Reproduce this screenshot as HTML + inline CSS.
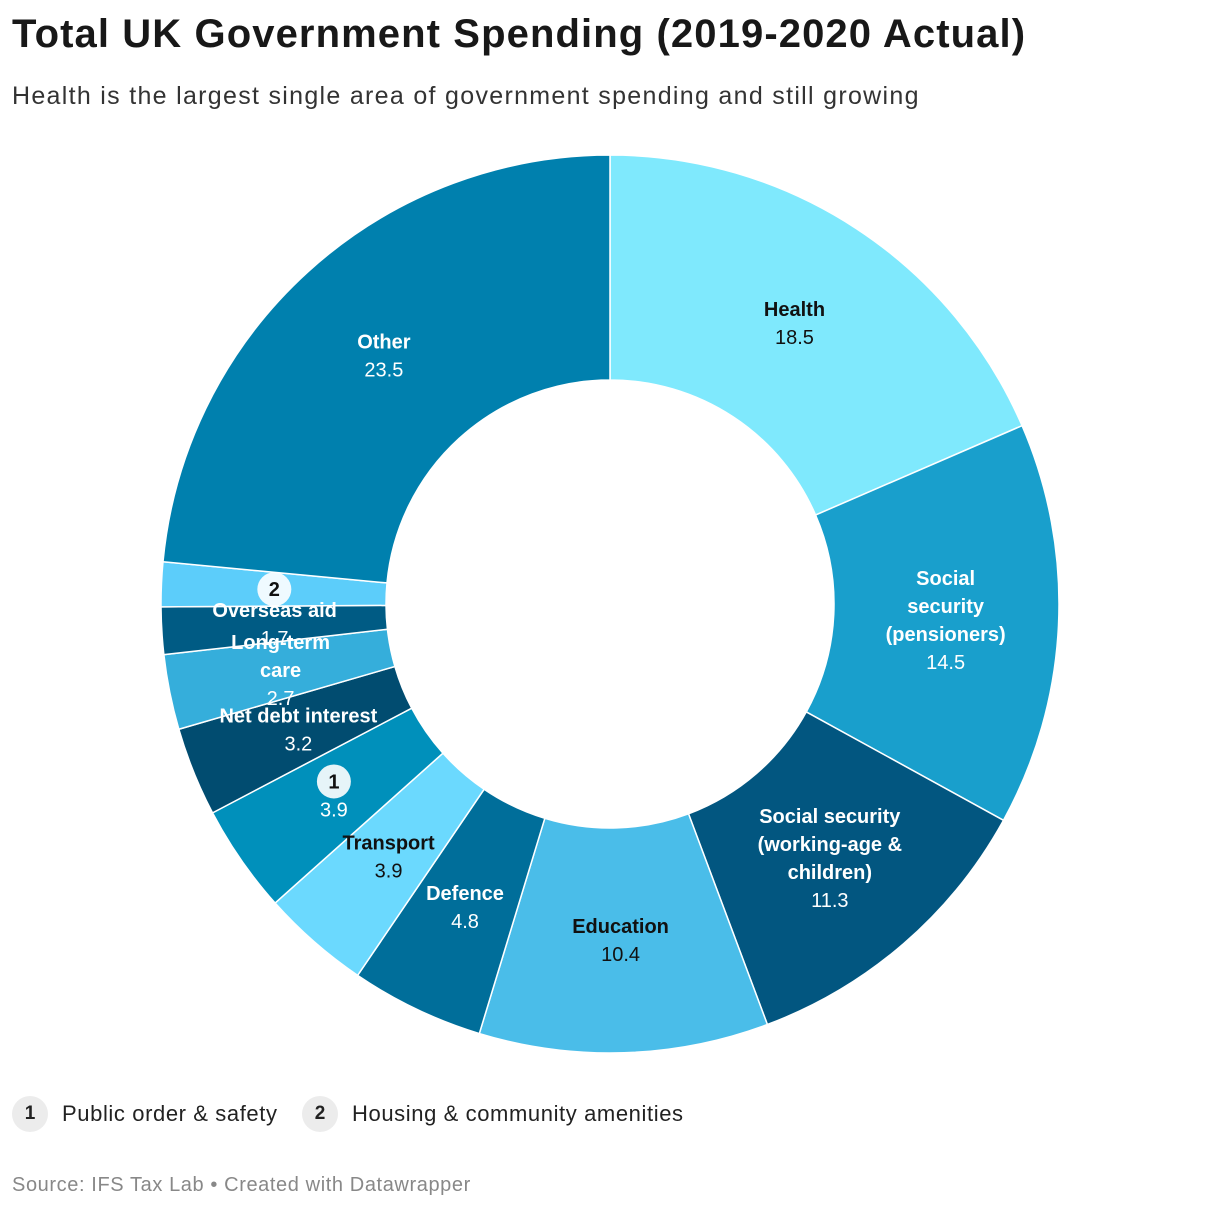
<!DOCTYPE html>
<html><head><meta charset="utf-8"><style>
body{margin:0;background:#fff;font-family:"Liberation Sans",Roboto,sans-serif;width:1220px;height:1210px;overflow:hidden;position:relative}
.t{position:absolute;left:12px;top:12px;font-size:40px;letter-spacing:1.1px;font-weight:bold;color:#181818;white-space:nowrap}
.s{position:absolute;left:12px;top:82px;font-size:25px;letter-spacing:1.3px;color:#333;white-space:nowrap}
.src{position:absolute;left:12px;top:1174px;font-size:20px;letter-spacing:0.6px;color:#888}
.leg{position:absolute;top:1096px;font-size:22px;letter-spacing:0.6px;color:#222;display:flex;align-items:center}
.dot{width:36px;height:36px;border-radius:50%;background:#ececec;display:inline-flex;align-items:center;justify-content:center;font-weight:bold;font-size:19px;margin-right:14px;letter-spacing:0}
</style></head><body>
<div class="t">Total UK Government Spending (2019-2020 Actual)</div>
<div class="s">Health is the largest single area of government spending and still growing</div>
<svg id="c" width="1220" height="1210" style="position:absolute;left:0;top:0"></svg>
<div class="leg" style="left:12px"><span class="dot">1</span>Public order &amp; safety</div>
<div class="leg" style="left:302px"><span class="dot">2</span>Housing &amp; community amenities</div>
<div class="src">Source: IFS Tax Lab • Created with Datawrapper</div>
<script>
const categories=[["Health"],["Social","security","(pensioners)"],["Social security","(working-age &","children)"],["Education"],["Defence"],["Transport"],["1"],["Net debt interest"],["Long-term","care"],["Overseas aid"],["2"],["Other"]];
const values=[18.5,14.5,11.3,10.4,4.8,3.9,3.9,3.2,2.7,1.7,1.6,23.5];
const showValue=[true,true,true,true,true,true,true,true,true,true,false,true];
const colors=["#7fe9fd","#199fcc","#025680","#4abde9","#006e9a","#6bd9fe","#0090bb","#014c70","#35aedb","#005b84","#5ccdfa","#0080ae"];
const darkText=[true,false,false,true,false,true,false,false,false,false,true,false];
const svg=document.getElementById('c'),NS="http://www.w3.org/2000/svg";
const cx=610,cy=604,R=449,r=224;
const total=values.reduce((a,b)=>a+b,0);
function pt(a,rad){return [cx+rad*Math.sin(a),cy-rad*Math.cos(a)];}
let acc=0;
values.forEach((v,i)=>{
 const a0=acc/total*2*Math.PI;acc+=v;const a1=acc/total*2*Math.PI;
 const lg=(a1-a0)>Math.PI?1:0;
 const p0=pt(a0,R),p1=pt(a1,R),q1=pt(a1,r),q0=pt(a0,r);
 const p=document.createElementNS(NS,'path');
 p.setAttribute('d',`M${p0}A${R},${R} 0 ${lg} 1 ${p1}L${q1}A${r},${r} 0 ${lg} 0 ${q0}Z`);
 p.setAttribute('fill',colors[i]);p.setAttribute('stroke','#fff');p.setAttribute('stroke-width','1.5');
 
 
 svg.appendChild(p);
});
acc=0;
values.forEach((v,i)=>{
 const am=(acc+v/2)/total*2*Math.PI;acc+=v;
 const [x,y]=pt(am,336);
 const lines=categories[i];const col=darkText[i]?"#111":"#fff";
 const isNum=lines[0]==="1"||lines[0]==="2";
 const n=lines.length+(showValue[i]?1:0);const lh=28;
 let y0=y-(n-1)*lh/2;
 const g=document.createElementNS(NS,'g');
 
 
 lines.forEach((l,k)=>{
  const yy=y0+k*lh;
  if(isNum){const c=document.createElementNS(NS,'circle');c.setAttribute('cx',x);c.setAttribute('cy',yy);c.setAttribute('r',17);c.setAttribute('fill','rgba(255,255,255,0.9)');g.appendChild(c);}
  const t=document.createElementNS(NS,'text');t.setAttribute('x',x);t.setAttribute('y',yy+7);t.setAttribute('text-anchor','middle');
  t.setAttribute('font-size','20');t.setAttribute('font-weight','bold');t.setAttribute('fill',isNum?'#111':col);t.textContent=l;g.appendChild(t);
 });
 if(showValue[i]){const t=document.createElementNS(NS,'text');t.setAttribute('x',x);t.setAttribute('y',y0+lines.length*lh+7);t.setAttribute('text-anchor','middle');
  t.setAttribute('font-size','20');t.setAttribute('fill',col);t.textContent=v.toFixed(1);g.appendChild(t);}
 svg.appendChild(g);
});
</script>
</body></html>
